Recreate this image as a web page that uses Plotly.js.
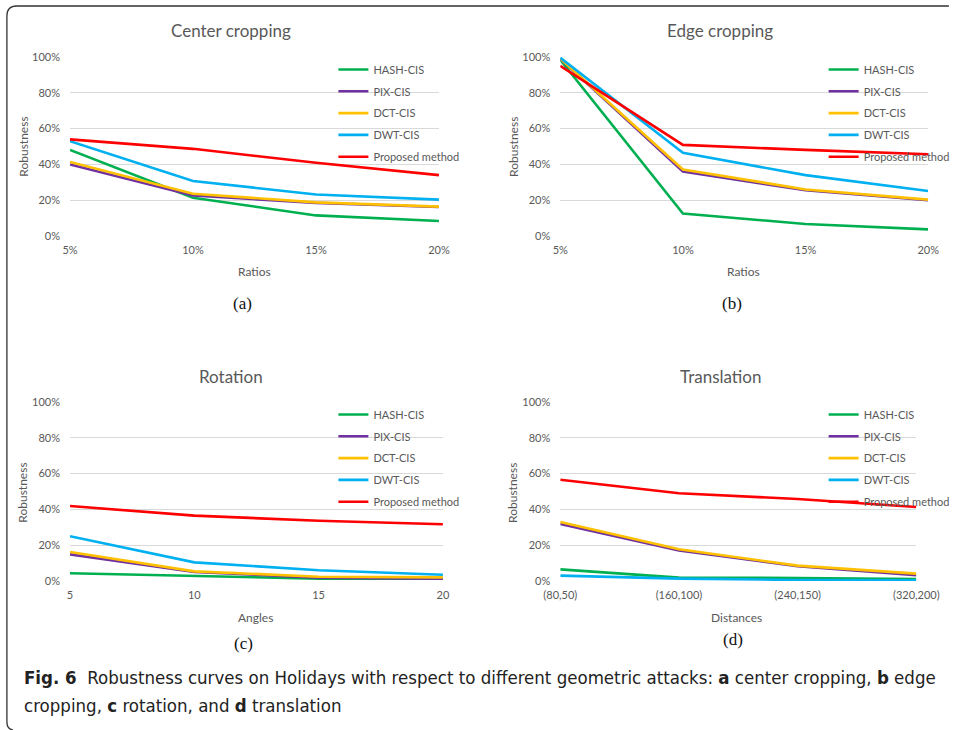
<!DOCTYPE html>
<html>
<head>
<meta charset="utf-8">
<script src="https://cdn.plot.ly/plotly-3.0.1.min.js"></script>
<style>
html,body{margin:0;padding:0;background:#fff;}
#chart{width:955px;height:730px;}
</style>
</head>
<body>
<div id="chart"></div>
<script>
// ---- data ----
const seriesNames = ['HASH-CIS', 'PIX-CIS', 'DCT-CIS', 'DWT-CIS', 'Proposed method'];
const seriesColors = ['#00B050', '#7030A0', '#FFC000', '#00B0F0', '#FF0000'];

const ratios = ['5%', '10%', '15%', '20%'];
const angles = ['5', '10', '15', '20'];
const distances = ['(80,50)', '(160,100)', '(240,150)', '(320,200)'];
const yTickVals = [0, 20, 40, 60, 80, 100];
const yTickLabels = ['0%', '20%', '40%', '60%', '80%', '100%'];

// (a) Center cropping
const centerHash = [48.1, 21.4, 11.5, 8.4];
const centerPix = [40.0, 22.6, 18.5, 16.2];
const centerDct = [41.4, 23.6, 18.8, 16.4];
const centerDwt = [53.0, 30.7, 23.2, 20.3];
const centerProposed = [54.0, 48.7, 40.9, 34.0];

// (b) Edge cropping
const edgeHash = [98.5, 12.6, 6.7, 3.7];
const edgePix = [99.0, 36.0, 25.6, 20.0];
const edgeDct = [99.2, 37.2, 26.0, 20.3];
const edgeDwt = [99.6, 46.5, 34.0, 25.1];
const edgeProposed = [95.0, 50.9, 48.1, 45.7];

// (c) Rotation
const rotHash = [4.3, 3.0, 1.3, 1.3];
const rotPix = [14.9, 5.0, 1.9, 1.3];
const rotDct = [16.2, 5.4, 2.4, 2.0];
const rotDwt = [25.0, 10.4, 6.0, 3.5];
const rotProposed = [41.9, 36.5, 33.7, 31.7];

// (d) Translation
const transHash = [6.5, 1.9, 1.7, 1.1];
const transPix = [31.8, 17.1, 8.2, 3.2];
const transDct = [33.0, 17.7, 8.6, 4.1];
const transDwt = [3.0, 1.3, 0.6, 0.4];
const transProposed = [56.6, 49.0, 45.8, 41.3];

// ---- helpers ----
const W = 955, H = 730;
const px = v => v / W;
const py = v => 1 - v / H;
const GRAY = '#595959';
const FONT = 'Lato, "Open Sans", sans-serif';

const panels = [
  {x: ratios, data: [centerHash, centerPix, centerDct, centerDwt, centerProposed], xa: 'x', ya: 'y', leg: 'legend'},
  {x: ratios, data: [edgeHash, edgePix, edgeDct, edgeDwt, edgeProposed], xa: 'x2', ya: 'y2', leg: 'legend2'},
  {x: angles, data: [rotHash, rotPix, rotDct, rotDwt, rotProposed], xa: 'x3', ya: 'y3', leg: 'legend3'},
  {x: distances, data: [transHash, transPix, transDct, transDwt, transProposed], xa: 'x4', ya: 'y4', leg: 'legend4'}
];

const traces = [];
panels.forEach((p, pi) => {
  p.data.forEach((vals, si) => {
    traces.push({
      type: 'scatter', mode: 'lines',
      x: p.x, y: vals,
      name: seriesNames[si],
      xaxis: p.xa, yaxis: p.ya,
      legend: p.leg,
      legendgroup: 'g' + pi + '_' + si,
      line: {color: seriesColors[si], width: 2.6},
      hoverinfo: 'skip'
    });
  });
});

function xAxis(l, r, anchor) {
  return {
    domain: [px(l), px(r)], anchor: anchor, type: 'category', range: [0, 3],
    showgrid: false, zeroline: false, showline: false, ticks: '',
    tickfont: {family: FONT, size: 11, color: GRAY}, ticklabelstandoff: 6,
    fixedrange: true
  };
}
function yAxis(top, bottom, anchor) {
  return {
    domain: [py(bottom), py(top)], anchor: anchor, range: [0, 100],
    tickmode: 'array', tickvals: yTickVals, ticktext: yTickLabels,
    showgrid: true, gridcolor: '#d9d9d9', gridwidth: 1,
    zeroline: false, showline: false, ticks: '',
    tickfont: {family: FONT, size: 11, color: GRAY}, ticklabelstandoff: 9,
    fixedrange: true
  };
}
function legend(xl, yt) {
  return {
    x: px(xl), y: py(yt), xanchor: 'left', yanchor: 'top',
    xref: 'paper', yref: 'paper',
    bgcolor: 'rgba(0,0,0,0)', borderwidth: 0,
    font: {family: FONT, size: 11, color: GRAY},
    traceorder: 'grouped', tracegroupgap: 2.8, itemwidth: 30
  };
}

const annotations = [];
function txt(text, x, y, size, opts) {
  annotations.push(Object.assign({
    text: text, x: px(x), y: py(y), xref: 'paper', yref: 'paper',
    xanchor: 'center', yanchor: 'middle', showarrow: false,
    font: {family: FONT, size: size, color: GRAY}
  }, opts || {}));
}
// titles
txt('Center cropping', 234, 31, 17);
txt('Edge cropping', 730, 31, 17);
txt('Rotation', 234, 376, 17);
txt('Translation', 730, 376, 17);
// axis titles
txt('Ratios', 258, 271, 12);
txt('Ratios', 754, 271, 12);
txt('Angles', 259, 617, 12);
txt('Distances', 747, 617, 12);
txt('Robustness', 23, 147, 12, {textangle: -90});
txt('Robustness', 520, 147, 12, {textangle: -90});
txt('Robustness', 23, 493, 12, {textangle: -90});
txt('Robustness', 520, 493, 12, {textangle: -90});
// panel labels
const SERIF = '"Liberation Serif", "DejaVu Serif", serif';
txt('(a)', 246, 303, 17, {font: {family: SERIF, size: 17, color: '#111'}});
txt('(b)', 742, 303, 17, {font: {family: SERIF, size: 17, color: '#111'}});
txt('(c)', 247, 643, 17, {font: {family: SERIF, size: 17, color: '#111'}});
txt('(d)', 743, 639, 17, {font: {family: SERIF, size: 17, color: '#111'}});
// caption
const CAP = '"Liberation Sans Narrow", "DejaVu Sans Condensed", sans-serif';
txt('<b>Fig. 6</b>  Robustness curves on Holidays with respect to different geometric attacks: <b>a</b> center cropping, <b>b</b> edge',
    22, 677, 18.5, {xanchor: 'left', font: {family: CAP, size: 18.5, color: '#222'}});
txt('cropping, <b>c</b> rotation, and <b>d</b> translation',
    22, 705, 18.5, {xanchor: 'left', font: {family: CAP, size: 18.5, color: '#222'}});

const border = {
  type: 'path', xref: 'paper', yref: 'paper',
  path: `M ${px(962)} ${py(6)} L ${px(17)} ${py(6)} Q ${px(7)} ${py(6)} ${px(7)} ${py(16)} L ${px(7)} ${py(722)} Q ${px(7)} ${py(729)} ${px(13)} ${py(730)}`,
  line: {color: '#333', width: 1.3}
};

const layout = {
  width: W, height: H,
  margin: {l: 0, r: 0, t: 0, b: 0},
  paper_bgcolor: '#fff', plot_bgcolor: 'rgba(0,0,0,0)',
  showlegend: true,
  xaxis: xAxis(71, 445, 'y'),
  yaxis: yAxis(57, 236, 'x'),
  xaxis2: xAxis(568, 941, 'y2'),
  yaxis2: yAxis(57, 236, 'x2'),
  xaxis3: xAxis(71, 449, 'y3'),
  yaxis3: yAxis(402, 581, 'x3'),
  xaxis4: xAxis(568, 929, 'y4'),
  yaxis4: yAxis(402, 581, 'x4'),
  legend: legend(338, 55),
  legend2: legend(835, 55),
  legend3: legend(338, 400),
  legend4: legend(835, 400),
  annotations: annotations,
  shapes: [border]
};

Plotly.newPlot('chart', traces, layout, {displayModeBar: false, staticPlot: true});
</script>
</body>
</html>
